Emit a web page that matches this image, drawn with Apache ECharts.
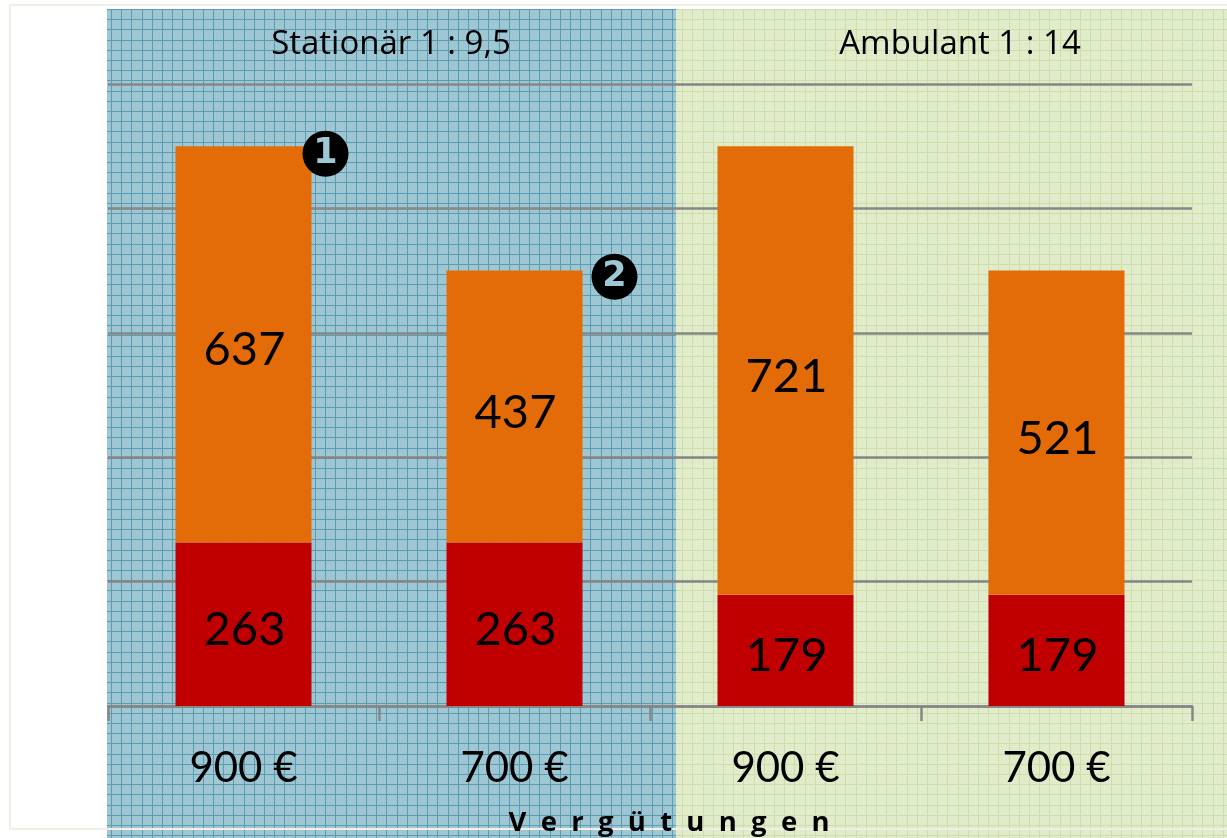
<!DOCTYPE html>
<html>
<head>
<meta charset="utf-8">
<script src="https://cdn.jsdelivr.net/npm/echarts@6/dist/echarts.min.js"></script>
<style>
    html,body{margin:0;padding:0;background:#fff}
    #chart{width:1227px;height:838px}
</style>
</head>
<body>
<div id="chart"></div>
<script>
// chart values
var categories = ['900 €', '700 €', '900 €', '700 €']
var lowerValues = [263, 263, 179, 179]
var upperValues = [637, 437, 721, 521]
var panelNames = ['Stationär 1 : 9,5', 'Ambulant 1 : 14']
var axisName = 'V  e  r  g  ü  t  u  n  g  e  n'

// graph paper fill for the two panels
function paper(base, dot, line){
    var c = document.createElement('canvas')
    c.width = 51
    c.height = 51
    var g = c.getContext('2d')
    g.fillStyle = base
    g.fillRect(0, 0, 51, 51)
    g.fillStyle = dot
    for (var y = 0; y < 51; y++) {
        for (var x = 0; x < 51; x++) {
            if ((x + y) % 2 == 0) g.fillRect(x, y, 1, 1)
        }
    }
    g.fillStyle = line
    var pos = [9, 19, 29, 40, 50]
    pos.forEach(function(p){
        g.fillRect(p, 0, 1, 51)
        g.fillRect(0, p, 51, 1)
    })
    return {image: c, repeat: 'repeat'}
}

var chart = echarts.init(document.getElementById('chart'))
var titleFont = {fontFamily: 'Open Sans', fontSize: 33, fontWeight: 'normal', color: '#000'}
var valueLabel = {show: true, position: 'inside', offset: [1, 6], fontFamily: 'Lato', fontSize: 47, color: '#000'}
var option = {
    animation: false,
    title: [
        {text: panelNames[0], left: 386, top: 23, textAlign: 'center', textStyle: titleFont},
        {text: panelNames[1], left: 955, top: 23, textAlign: 'center', textStyle: titleFont}
    ],
    graphic: [
        {type: 'rect', z: -10, silent: true, shape: {x: 107, y: 9, width: 569, height: 829},
         style: {fill: paper('#a3cad6', '#9ac3d0', '#5a9db2')}},
        {type: 'rect', z: -10, silent: true, shape: {x: 676, y: 9, width: 551, height: 829},
         style: {fill: paper('#e3edcf', '#dee9c6', '#cddea9')}},
        {type: 'rect', z: -5, silent: true, shape: {x: 10, y: 5, width: 1300, height: 824},
         style: {fill: 'none', stroke: '#f1eee5', lineWidth: 2}}
    ],
    grid: {left: 108, right: 35, top: 84, bottom: 132, outerBoundsMode: 'none'},
    xAxis: {
        type: 'category',
        data: categories,
        name: axisName,
        nameLocation: 'middle',
        nameGap: 103,
        nameTextStyle: {fontFamily: 'Open Sans', fontSize: 27.5, fontWeight: 'bold', color: '#000', padding: [0, 0, 0, 38]},
        axisLine: {lineStyle: {color: '#868686', width: 2.5}},
        axisTick: {show: true, length: 15, lineStyle: {color: '#868686', width: 2.5}},
        axisLabel: {margin: 41, fontFamily: 'Lato', fontSize: 42, color: '#000'}
    },
    yAxis: {
        type: 'value',
        min: 0,
        max: 1000,
        interval: 200,
        axisLine: {show: false},
        axisTick: {show: false},
        axisLabel: {show: false},
        splitLine: {lineStyle: {color: '#868686', width: 2.5}}
    },
    series: [
        {
            type: 'bar',
            stack: 'total',
            barWidth: 136,
            data: lowerValues,
            itemStyle: {color: '#c00000'},
            label: valueLabel
        },
        {
            type: 'bar',
            stack: 'total',
            barWidth: 136,
            data: upperValues,
            itemStyle: {color: '#e36c09'},
            label: valueLabel,
            markPoint: {
                silent: true,
                symbol: 'circle',
                symbolSize: 46,
                itemStyle: {color: '#000'},
                label: {fontFamily: 'DejaVu Sans', fontWeight: 'bold', fontSize: 35, color: '#9fc8d5'},
                data: [
                    {coord: [0, 888], value: '1', symbolOffset: [82, 0]},
                    {coord: [1, 690], value: '2', symbolOffset: [100, 0]}
                ]
            }
        }
    ]
}
chart.setOption(option)
</script>
</body>
</html>
